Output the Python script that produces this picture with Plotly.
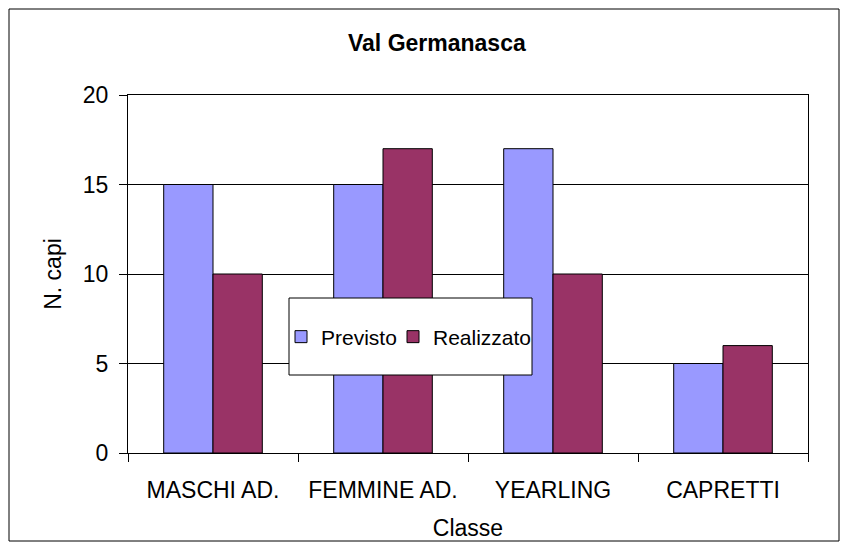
import plotly.graph_objects as go

categories = ["MASCHI AD.", "FEMMINE AD.", "YEARLING", "CAPRETTI"]
previsto = [15, 15, 17, 5]
realizzato = [10, 17, 10, 6]
y_ticks = [0, 5, 10, 15, 20]

W, H = 841, 544
L, R, T, B = 128, 33, 95, 91
pw, ph = W - L - R, H - T - B

def px_x(x):
    return (x - L) / pw

def px_y(y):
    return (H - B - y) / ph

FONT = "Liberation Sans, Arial, sans-serif"

fig = go.Figure()
fig.add_trace(go.Bar(name="Previsto", x=categories, y=previsto, legend="legend",
                     marker=dict(color="#9999FF", line=dict(color="black", width=1))))
fig.add_trace(go.Bar(name="Realizzato", x=categories, y=realizzato, legend="legend2",
                     marker=dict(color="#993366", line=dict(color="black", width=1))))

leg_common = dict(orientation="h", xanchor="left", y=px_y(337), yanchor="middle",
                  bgcolor="rgba(0,0,0,0)", borderwidth=0, font=dict(size=21),
                  itemwidth=30)

fig.update_layout(
    width=W, height=H,
    margin=dict(l=L, r=R, t=T, b=B, autoexpand=False),
    paper_bgcolor="white", plot_bgcolor="white",
    font=dict(family=FONT, size=23, color="black"),
    barmode="group", bargap=0.42, bargroupgap=0,
    showlegend=True,
    legend=dict(x=px_x(281), **leg_common),
    legend2=dict(x=px_x(393), **leg_common),
    annotations=[dict(text="<b>Val Germanasca</b>", xref="paper", yref="paper",
                      x=px_x(437), y=px_y(43), xanchor="center", yanchor="middle",
                      showarrow=False, font=dict(size=23, family=FONT))],
    shapes=[
        dict(type="rect", xref="paper", yref="paper",
             x0=px_x(9), x1=px_x(839), y0=px_y(541), y1=px_y(9),
             line=dict(color="black", width=1), fillcolor="rgba(0,0,0,0)", layer="below"),
        dict(type="rect", xref="paper", yref="paper",
             x0=px_x(289), x1=px_x(532), y0=px_y(375), y1=px_y(298),
             line=dict(color="black", width=1), fillcolor="white", layer="above"),
    ],
)

fig.update_xaxes(type="category", tickson="boundaries", ticks="outside", ticklen=8,
                 tickcolor="black", showline=True, linecolor="black", linewidth=1,
                 mirror=True, showgrid=False, ticklabelstandoff=16,
                 title=dict(text="Classe", standoff=18, font=dict(size=23)))
fig.update_yaxes(range=[0, 20], tickvals=y_ticks, ticks="outside", ticklen=8,
                 tickcolor="black", showline=True, linecolor="black", linewidth=1,
                 mirror=True, showgrid=True, gridcolor="black", gridwidth=1,
                 zeroline=False, ticklabelstandoff=6,
                 title=dict(text="N. capi", standoff=14, font=dict(size=23)))

fig.write_html("out.html", config={"displayModeBar": False},
               post_script="document.body.style.margin='0';document.body.style.overflow='hidden';")
